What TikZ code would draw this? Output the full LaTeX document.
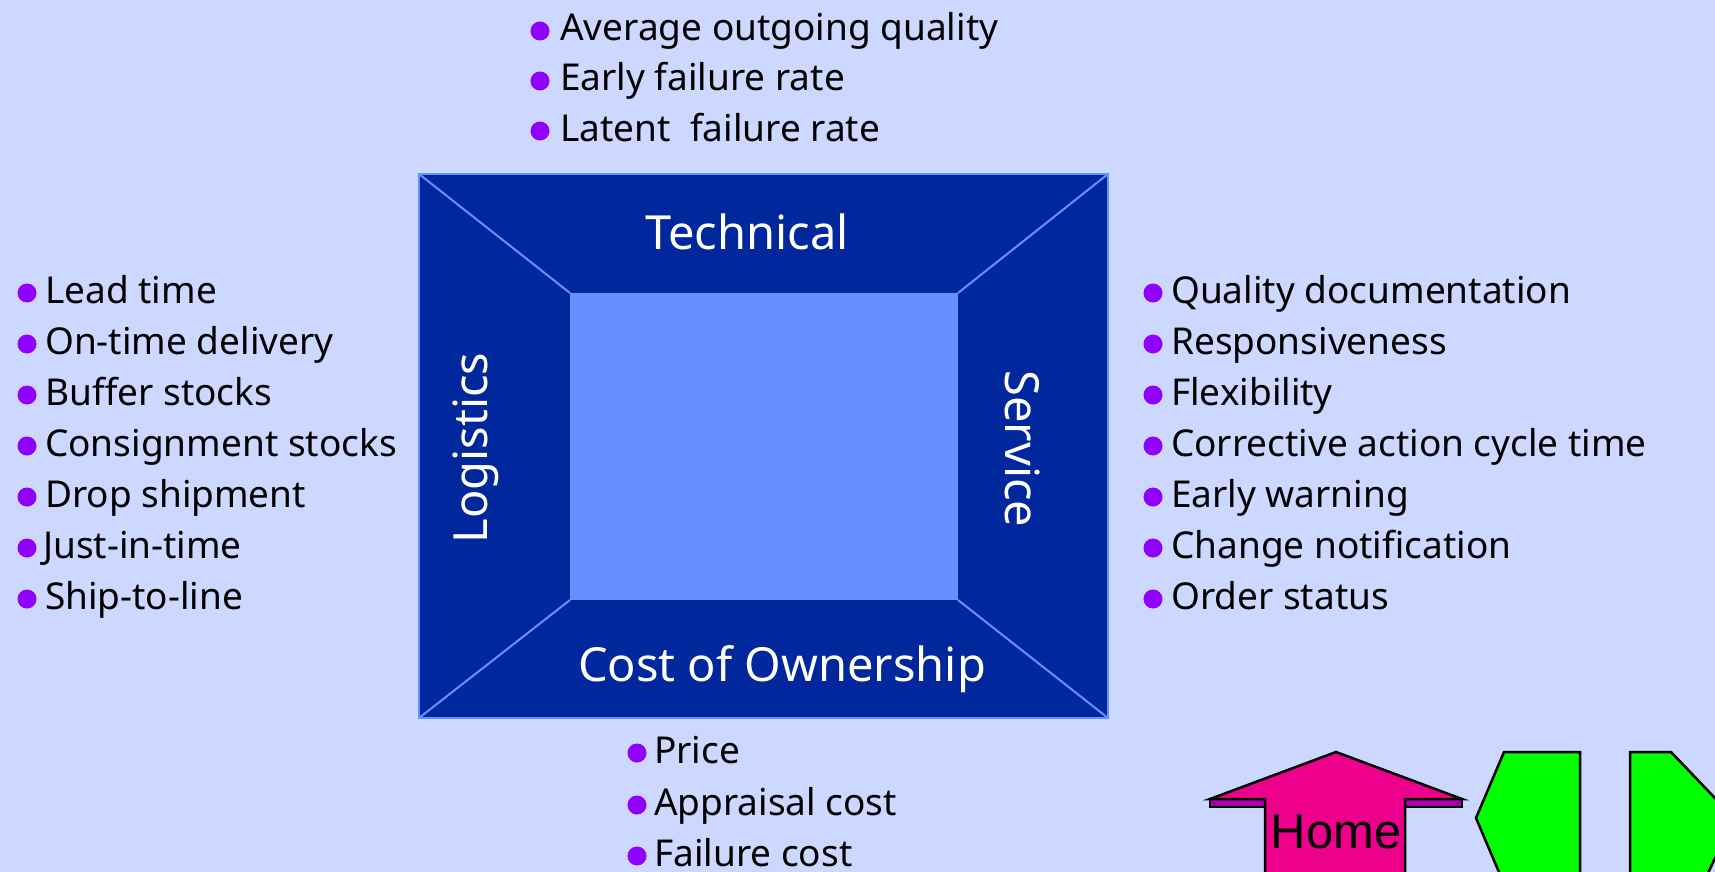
\documentclass[tikz,border=0pt]{standalone}
\usepackage{fontspec}
\setmainfont{Noto Sans}
\newfontfamily\homefont{Liberation Sans}
\usepackage{tikz}

\definecolor{pagecolor}{HTML}{CCD8FF}
\definecolor{navycolor}{HTML}{00289C}
\definecolor{panelcolor}{HTML}{6690FF}
\definecolor{dotcolor}{HTML}{9000FF}
\definecolor{wingcolor}{HTML}{AA00AA}

\begin{document}
\begin{tikzpicture}
        [
        x = 1pt,
        y = -1pt,
        frame/.style = {
            draw = panelcolor,
            fill = navycolor,
            line width = 2.5pt,
            outer sep = 0pt,
            minimum width = 689pt,
            minimum height = 544pt,
        },
        panel/.style = {
            fill = panelcolor,
            outer sep = 0pt,
            minimum width = 388pt,
            minimum height = 307pt,
        },
        title/.style = {
            text = white,
            font = \fontsize{47}{47}\selectfont,
        },
        dot/.style = {
            circle,
            fill = dotcolor,
            inner sep = 0pt,
            minimum size = 19pt,
        },
        entry/.style = {
            anchor = west,
            inner sep = 0pt,
            text height = 29pt,
            text depth = 9pt,
            font = \fontsize{37}{37}\selectfont\bfseries,
        },
        diagonal/.style = {
            draw = panelcolor,
            line width = 2pt,
        },
        navbutton/.style = {
            draw = black,
            line width = 2.5pt,
            line join = miter,
        },
        ]

        \clip (0,0) rectangle (1715,872);
        \fill[pagecolor] (0,0) rectangle (1715,872);

        % Box
        \node[frame] (frame) at (763.5,446) {};
        \node[panel] (panel) at (764,446.5) {};
        \draw[diagonal] (frame.north west) -- (panel.north west);
        \draw[diagonal] (frame.north east) -- (panel.north east);
        \draw[diagonal] (frame.south west) -- (panel.south west);
        \draw[diagonal] (frame.south east) -- (panel.south east);

        \node[title] (technical) at (747,232) {Technical};
        \node[title] (cost) at (782,669) {Cost of Ownership};
        \node[title, rotate = 90] (logistics) at (476,448) {Logistics};
        \node[title, rotate = -90] (service) at (1023,449) {Service};

        % Top list
        \node[dot] (average_dot) at (540,31) {};
        \node[entry] (average) at (560,31) {Average outgoing quality};
        \node[dot] (early_dot) at (540,81) {};
        \node[entry] (early) at (560,81) {Early failure rate};
        \node[dot] (latent_dot) at (540,131) {};
        \node[entry] (latent) at (560,131) {Latent\ \ failure rate};

        % Left list
        \node[dot] (lead_dot) at (27,293) {};
        \node[entry] (lead) at (45,293) {Lead time};
        \node[dot] (ontime_dot) at (27,344) {};
        \node[entry] (ontime) at (45,344) {On-time delivery};
        \node[dot] (buffer_dot) at (27,395) {};
        \node[entry] (buffer) at (45,395) {Buffer stocks};
        \node[dot] (consignment_dot) at (27,446) {};
        \node[entry] (consignment) at (45,446) {Consignment stocks};
        \node[dot] (drop_dot) at (27,497) {};
        \node[entry] (drop) at (45,497) {Drop shipment};
        \node[dot] (just_dot) at (27,548) {};
        \node[entry] (just) at (43,548) {Just-in-time};
        \node[dot] (ship_dot) at (27,599) {};
        \node[entry] (ship) at (45,599) {Ship-to-line};

        % Right list
        \node[dot] (quality_dot) at (1153,293) {};
        \node[entry] (quality) at (1171,293) {Quality documentation};
        \node[dot] (response_dot) at (1153,344) {};
        \node[entry] (response) at (1171,344) {Responsiveness};
        \node[dot] (flex_dot) at (1153,395) {};
        \node[entry] (flex) at (1171,395) {Flexibility};
        \node[dot] (corrective_dot) at (1153,446) {};
        \node[entry] (corrective) at (1171,446) {Corrective action cycle time};
        \node[dot] (warning_dot) at (1153,497) {};
        \node[entry] (warning) at (1171,497) {Early warning};
        \node[dot] (change_dot) at (1153,548) {};
        \node[entry] (change) at (1171,548) {Change notification};
        \node[dot] (order_dot) at (1153,599) {};
        \node[entry] (order) at (1171,599) {Order status};

        % Bottom list
        \node[dot] (price_dot) at (637,753) {};
        \node[entry] (price) at (654,753) {Price};
        \node[dot] (appraisal_dot) at (637,805) {};
        \node[entry] (appraisal) at (654,805) {Appraisal cost};
        \node[dot] (failure_dot) at (637,856) {};
        \node[entry] (failure) at (654,856) {Failure cost};

        % Buttons
        \draw[navbutton, fill = wingcolor] (1210,799) rectangle (1462,807);
        \draw[navbutton, fill = magenta] (1336,752) -- (1462,799) -- (1405,799) -- (1405,890) -- (1265,890) -- (1265,799) -- (1210,799) -- cycle;
        \node[font = \homefont\fontsize{49}{49}\selectfont] (home) at (1336,832) {Home};
        \draw[navbutton, fill = green] (1476,818) -- (1504,752) -- (1580,752) -- (1580,890) -- (1504,884) -- cycle;
        \draw[navbutton, fill = green] (1734,818) -- (1671,752) -- (1630,752) -- (1630,890) -- (1700,890) -- cycle;
    \end{tikzpicture}
\end{document}
